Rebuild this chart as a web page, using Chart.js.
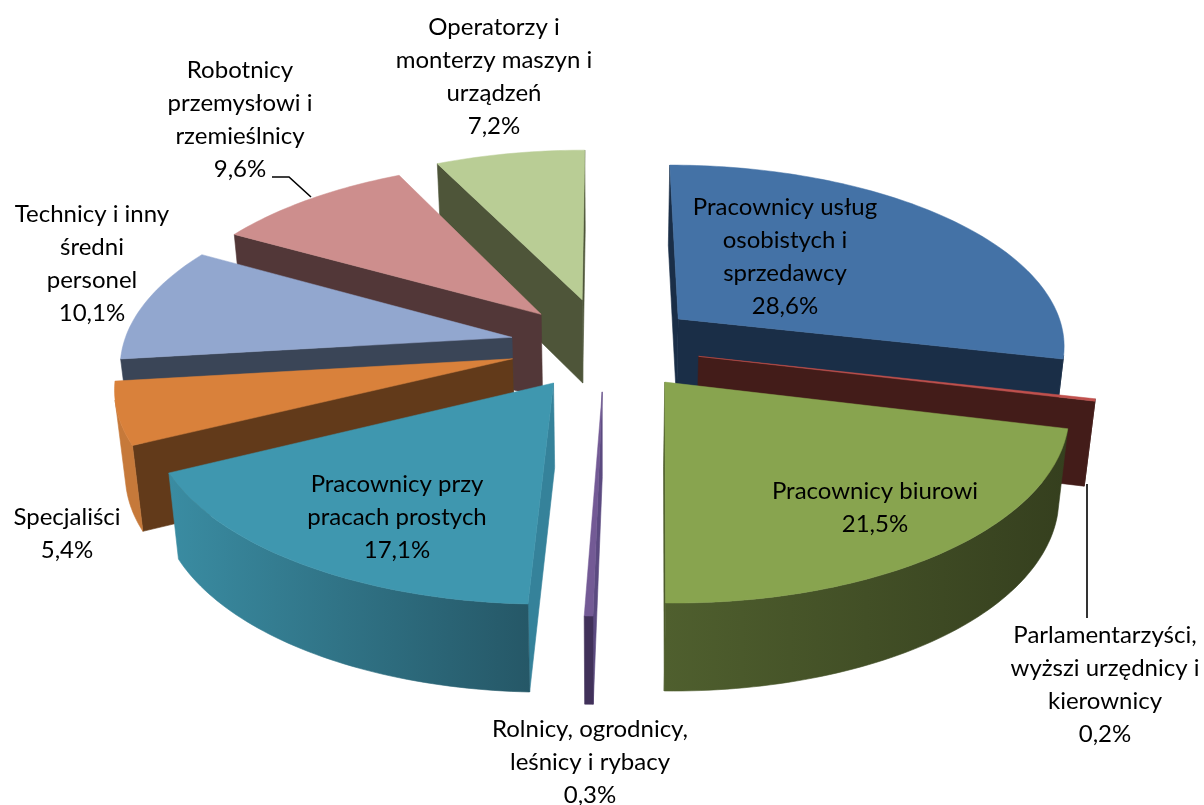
<!DOCTYPE html>
<html><head><meta charset="utf-8">
<style>html,body{margin:0;padding:0;background:#fff}canvas{display:block}</style>
<script src="https://cdn.jsdelivr.net/npm/chart.js@4"></script>
</head><body><canvas id="c" width="1204" height="805"></canvas>
<script>
const categories = [
  ["Pracownicy usług","osobistych i","sprzedawcy"],
  ["Parlamentarzyści,","wyższi urzędnicy i","kierownicy"],
  ["Pracownicy biurowi"],
  ["Rolnicy, ogrodnicy,","leśnicy i rybacy"],
  ["Pracownicy przy","pracach prostych"],
  ["Specjaliści"],
  ["Technicy i inny","średni","personel"],
  ["Robotnicy","przemysłowi i","rzemieślnicy"],
  ["Operatorzy i","monterzy maszyn i","urządzeń"]
];
const shares = [28.6,0.2,21.5,0.3,17.1,5.4,10.1,9.6,7.2];
const explode = [87,87,87,87,84,87,87,87,96];
const topColors = ["#4472A6","#C0504D","#88A44F","#735A95","#3F97AF","#D9813B","#92A7CF","#CD8E8D","#B9CD95"];
const sideColors = ["#1A2E47","#431C19","#4C5A2B","#5B4A80","#35829A","#623A1A","#3A4557","#523738","#4E5539"];
const rimFrom = ["#1A2E47","#431C19","#4F5F2E","#41315A","#3A8CA2","#C6793A","#3A4557","#523738","#4E5539"];
const rimTo = ["#1A2E47","#431C19","#353F1E","#41315A","#245463","#C6793A","#3A4557","#523738","#4E5539"];
const labelAt = [[785,207],[1105,635],[875,491],[590,729],[397,484],[67,517],[92,214],[240,70],[494,27]];
const view = {cx:605, cy:346, A:181, B:389, p:0.133, D:84, tilt:0.04, shrink:0.978};

function project(u,v,z){
  const w = 1 - view.p*v;
  const x = view.B*u/w, y = view.A*v/w;
  return z ? [view.cx + x*view.shrink, view.cy + y + view.D*(1+view.tilt*v)]
           : [view.cx + x, view.cy + y];
}
function poly(ctx,pts){ctx.beginPath();pts.forEach((p,i)=>i?ctx.lineTo(p[0],p[1]):ctx.moveTo(p[0],p[1]));ctx.closePath();}
function area(q){let s=0;q.forEach((p,i)=>{const n=q[(i+1)%q.length];s+=p[0]*n[1]-n[0]*p[1];});return s;}

const pie3d = {
  id:'pie3d',
  beforeDatasetDraw(chart){
    const ctx = chart.ctx, arcs = chart.getDatasetMeta(0).data;
    const slices = arcs.map((a,i)=>{
      const e = a.options.offset/a.outerRadius, mid=(a.startAngle+a.endAngle)/2;
      const ou=e*Math.cos(mid), ov=e*Math.sin(mid);
      const outline=[[ou,ov]], n=Math.max(2,Math.ceil((a.endAngle-a.startAngle)/0.02));
      for(let k=0;k<=n;k++){const t=a.startAngle+(a.endAngle-a.startAngle)*k/n;outline.push([ou+Math.cos(t),ov+Math.sin(t)]);}
      return {i,mid,outline,top:a.options.backgroundColor};
    }).sort((s,t)=>Math.sin(s.mid)-Math.sin(t.mid));
    for(const s of slices){
      const T=s.outline.map(p=>project(p[0],p[1],false)), B=s.outline.map(p=>project(p[0],p[1],true));
      const m=T.length;
      for(const [k,j] of [[0,1],[m-1,0]]){
        const q=[T[k],T[j],B[j],B[k]];
        if(area(q)>=0) continue;
        poly(ctx,q);ctx.fillStyle=sideColors[s.i];ctx.strokeStyle=sideColors[s.i];ctx.lineWidth=0.6;ctx.fill();ctx.stroke();
      }
      const xs=T.map(p=>p[0]), g=ctx.createLinearGradient(Math.min(...xs),0,Math.max(...xs),0);
      g.addColorStop(0,rimFrom[s.i]);g.addColorStop(1,rimTo[s.i]);
      let run=[];
      const flush=()=>{ if(run.length>1){
          poly(ctx,[...run.map(k=>T[k]),...run.slice().reverse().map(k=>B[k])]);
          ctx.fillStyle=g;ctx.strokeStyle=g;ctx.lineWidth=0.6;ctx.fill();ctx.stroke();
        } run=[]; };
      for(let k=1;k<m-1;k++){
        if(area([T[k],T[k+1],B[k+1],B[k]])<0){ if(!run.length) run.push(k); run.push(k+1);} else flush();
      }
      flush();
      poly(ctx,T);ctx.fillStyle=s.top;ctx.strokeStyle=s.top;ctx.lineWidth=0.5;ctx.fill();ctx.stroke();
    }
    return false;
  },
  afterDraw(chart){
    const ctx=chart.ctx;
    ctx.save();
    ctx.strokeStyle='#000';ctx.lineWidth=1.6;
    ctx.beginPath();ctx.moveTo(272,177);ctx.lineTo(289,177);ctx.lineTo(311,197);ctx.stroke();
    ctx.beginPath();ctx.moveTo(1087,484);ctx.lineTo(1087,618);ctx.stroke();
    ctx.fillStyle='#000';ctx.font='24px Lato';ctx.textAlign='center';ctx.textBaseline='middle';
    categories.forEach((lines,i)=>{
      const all=[...lines,shares[i].toFixed(1).replace('.',',')+'%'];
      all.forEach((t,k)=>ctx.fillText(t,labelAt[i][0],labelAt[i][1]+k*33));
    });
    ctx.restore();
  }
};

new Chart(document.getElementById('c'),{
  type:'pie',
  data:{labels:categories.map(c=>c.join(' ')),datasets:[{data:shares,backgroundColor:topColors,offset:explode,borderWidth:0}]},
  options:{responsive:false,animation:false,layout:{padding:0},
    plugins:{legend:{display:false},tooltip:{enabled:false},title:{display:false}}},
  plugins:[pie3d]
});
</script></body></html>
